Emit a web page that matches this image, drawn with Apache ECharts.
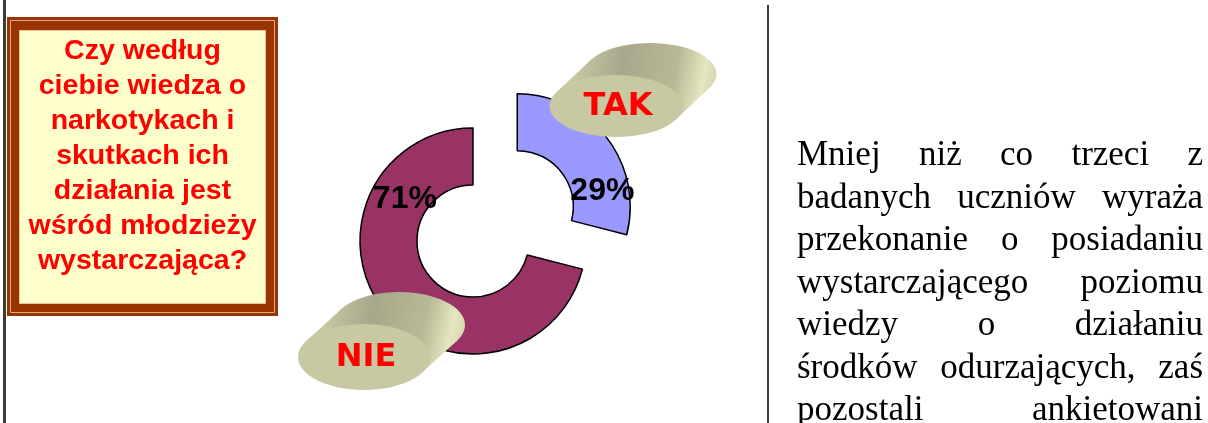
<!DOCTYPE html>
<html>
<head>
<meta charset="utf-8">
<script src="https://cdn.jsdelivr.net/npm/echarts@6/dist/echarts.min.js"></script>
<style>
html, body { margin: 0; padding: 0; background: #fff; }
#chart { position: absolute; left: 0; top: 0; width: 1208px; height: 423px; }
#opis {
	position: absolute;
	left: 797px;
	top: 133px;
	width: 406px;
	font-family: "Liberation Serif", "Times New Roman", serif;
	font-size: 35px;
	color: #000;
}
#opis div {
	height: 42.5px;
	line-height: 42.5px;
	white-space: nowrap;
	text-align: justify;
	text-align-last: justify;
}
</style>
</head>
<body>
<div id="chart"></div>
<div id="opis"></div>
<script>
// dane wykresu
var categories = ['TAK', 'NIE'];
var values = [29, 71];
var colors = ['#9999FF', '#993366'];

var questionLines = [
	'Czy według',
	'ciebie wiedza o',
	'narkotykach i',
	'skutkach ich',
	'działania jest',
	'wśród młodzieży',
	'wystarczająca?'
];

var paragraphLines = [
	'Mniej niż co trzeci z',
	'badanych uczniów wyraża',
	'przekonanie o posiadaniu',
	'wystarczającego poziomu',
	'wiedzy o działaniu',
	'środków odurzających, zaś',
	'pozostali ankietowani'
];

// akapit po prawej
var opis = document.getElementById('opis');
paragraphLines.forEach(function (line) {
	var d = document.createElement('div');
	d.textContent = line;
	opis.appendChild(d);
});

// "plakietka" 3D z napisem
function pill(cx, cy, rx, ry, dx, dy, text, z) {
	// punkty styczne obrysu przy przesunieciu (dx, dy)
	var t = Math.atan2(-ry * dx, rx * dy);
	var a = [cx + rx * Math.cos(t), cy + ry * Math.sin(t)];
	var b = [cx - rx * Math.cos(t), cy - ry * Math.sin(t)];
	if (a[0] > b[0]) { var tmp = a; a = b; b = tmp; }
	var grad = new echarts.graphic.LinearGradient(a[0], a[1] + dy / 2, b[0] + dx, b[1] + dy / 2, [
		{ offset: 0, color: '#D2D2AE' },
		{ offset: 0.4, color: '#A9A78A' },
		{ offset: 0.75, color: '#B9B896' },
		{ offset: 0.93, color: '#E6E6C2' },
		{ offset: 1, color: '#D8D8B2' }
	], true);
	return [
		{
			type: 'ellipse', z: z, silent: true,
			shape: { cx: cx + dx, cy: cy + dy, rx: rx, ry: ry },
			style: { fill: grad }
		},
		{
			type: 'polygon', z: z, silent: true,
			shape: { points: [a, b, [b[0] + dx, b[1] + dy], [a[0] + dx, a[1] + dy]] },
			style: { fill: grad }
		},
		{
			type: 'ellipse', z: z + 1, silent: true,
			shape: { cx: cx, cy: cy, rx: rx, ry: ry },
			style: { fill: '#C8C8A2' }
		},
		{
			type: 'text', z: z + 2, silent: true,
			style: {
				text: text, x: cx + 2, y: cy + 1, align: 'center', verticalAlign: 'middle',
				fill: '#FF0000', font: 'bold 32px "DejaVu Sans"'
			}
		}
	];
}

var myChart = echarts.init(document.getElementById('chart'), null, { renderer: 'canvas' });
var option;
option = {
	animation: false,
	backgroundColor: '#fff',
	graphic: [
		// pionowe linie
		{ type: 'rect', z: 1, shape: { x: 3, y: 0, width: 3, height: 423 }, style: { fill: '#3a3a3a' } },
		{ type: 'rect', z: 1, shape: { x: 767, y: 5, width: 2, height: 418 }, style: { fill: '#3a3a3a' } },
		// ramka z pytaniem
		{ type: 'rect', z: 1, shape: { x: 7, y: 17, width: 271, height: 299 }, style: { fill: '#993300' } },
		{ type: 'rect', z: 2, shape: { x: 10.5, y: 20.5, width: 264, height: 292 }, style: { fill: 'none', stroke: '#E2A98A', lineWidth: 1 } },
		{ type: 'rect', z: 2, shape: { x: 19.5, y: 30.5, width: 246, height: 273 }, style: { fill: '#FFFFCC', stroke: '#E8C4A0', lineWidth: 1 } },
		{
			type: 'text', z: 3,
			style: {
				text: questionLines.join('\n'),
				x: 142.5, y: 156, align: 'center', verticalAlign: 'middle',
				fill: '#FF0000', font: 'bold 28.5px "Liberation Sans"', lineHeight: 35
			}
		}
	].concat(pill(616, 106, 66.5, 31, 34, -32, categories[0], 20))
	 .concat(pill(364, 357, 66, 33, 35, -32, categories[1], 20)),
	series: [
		{
			type: 'pie',
			center: [473, 241],
			radius: [56, 113],
			startAngle: 90,
			clockwise: true,
			selectedMode: 'single',
			selectedOffset: 56,
			avoidLabelOverlap: false,
			emphasis: { disabled: true },
			itemStyle: { borderColor: '#000', borderWidth: 1.5 },
			label: {
				show: true,
				position: 'inside',
				formatter: '{c}%',
				color: '#000',
				fontSize: 32,
				fontWeight: 'bold',
				fontFamily: 'Liberation Sans'
			},
			labelLine: { show: false },
			labelLayout: function (p) {
				return p.dataIndex === 0 ? { dx: 16, dy: 38 } : { dx: 1, dy: -95 };
			},
			data: categories.map(function (c, i) {
				return { name: c, value: values[i], selected: i === 0, itemStyle: { color: colors[i] } };
			})
		}
	]
};
option && myChart.setOption(option);
</script>
</body>
</html>
